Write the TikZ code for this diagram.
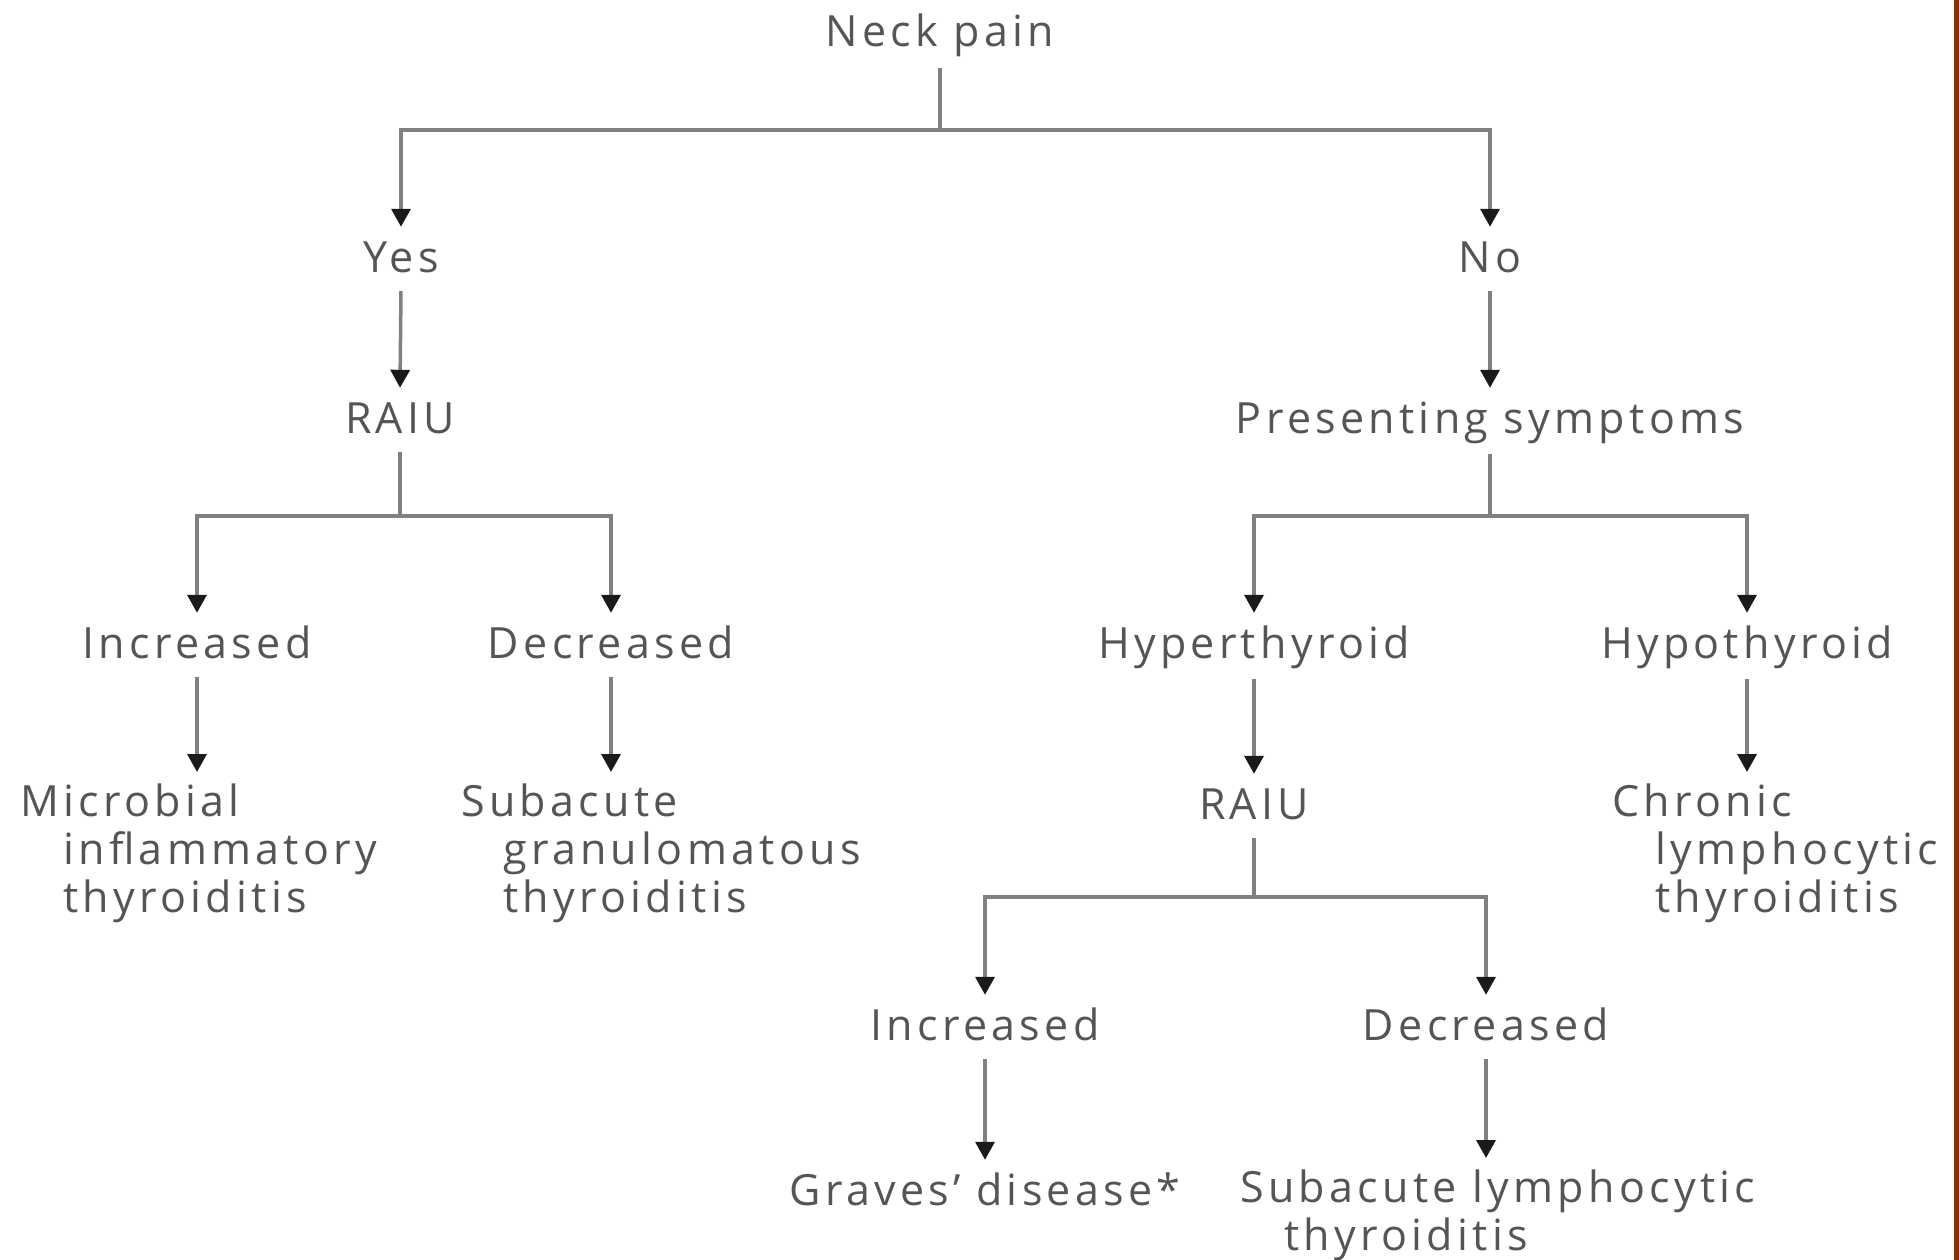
\documentclass[tikz,border=0pt]{standalone}
\usepackage{fontspec}
\usetikzlibrary{arrows.meta}
\newfontfamily\lblfamily{Open Sans}[LetterSpace=10]
\newcommand\lblfont{\lblfamily\fontsize{43}{48}\selectfont}
\newcommand\mystrut{\rule[-9pt]{0pt}{44pt}}
\definecolor{txtgray}{HTML}{555555}
\definecolor{linegray}{HTML}{808080}
\definecolor{tipblack}{HTML}{1A1A1A}
\definecolor{brownstrip}{HTML}{8B3300}
\tikzset{
  lbl/.style={font=\lblfont, text=txtgray, inner xsep=0pt, inner ysep=10pt, anchor=base, execute at begin node=\mystrut},
  mlbl/.style={lbl, align=left, anchor=north west, inner ysep=12pt},
  conn/.style={draw=linegray, line width=3.5pt},
  arr/.style={conn, -{Triangle[length=18pt,width=19pt,color=tipblack]}}
}
\begin{document}
\begin{tikzpicture}[x=1pt,y=-1pt]
\useasboundingbox (0,0) rectangle (1959,1260);
\fill[white] (0,0) rectangle (1959,1260);
\fill[brownstrip] (1954,0) rectangle (1959,1260);

% nodes
\node[lbl] (neck) at (940,47) {Neck pain};
\node[lbl] (yes) at (401,272) {Yes};
\node[lbl] (no) at (1490,272) {No};
\node[lbl] (raiu1) at (400,433) {RAIU};
\node[lbl] (pres) at (1490,433) {Presenting symptoms};
\node[lbl] (inc1) at (197,658) {Increased};
\node[lbl] (dec1) at (611,658) {Decreased};
\node[lbl] (hyper) at (1254,658) {Hyperthyroid};
\node[lbl] (hypo) at (1747,658) {Hypothyroid};
\node[mlbl] (mic) at (20,772) {Microbial\\\hspace*{43pt}inflammatory\\\hspace*{43pt}thyroiditis};
\node[mlbl] (subg) at (461,772) {Subacute\\\hspace*{42pt}granulomatous\\\hspace*{42pt}thyroiditis};
\node[lbl] (raiu2) at (1254,819) {RAIU};
\node[mlbl] (chron) at (1612,772) {Chronic\\\hspace*{43pt}lymphocytic\\\hspace*{43pt}thyroiditis};
\node[lbl] (inc2) at (985,1040) {Increased};
\node[lbl] (dec2) at (1486,1040) {Decreased};
\node[lbl] (graves) at (985,1205) {Graves’ disease*};
\node[mlbl] (subl) at (1240,1158) {Subacute lymphocytic\\\hspace*{44pt}thyroiditis};

% junctions
\coordinate (j1) at (neck.south |- 0,130);
\coordinate (j2) at (raiu1.south |- 0,516);
\coordinate (j3) at (pres.south |- 0,516);
\coordinate (j4) at (raiu2.south |- 0,897);

% connectors
\draw[conn] (neck.south) -- (j1);
\draw[arr] (j1) -| (yes.north);
\draw[arr] (j1) -| (no.north);
\draw[arr] (yes.south) -- (raiu1.north);
\draw[arr] (no.south) -- (pres.north);

\draw[conn] (raiu1.south) -- (j2);
\draw[arr] (j2) -| (inc1.north);
\draw[arr] (j2) -| (dec1.north);
\draw[arr] (inc1.south) -- (inc1.south |- mic.north);
\draw[arr] (dec1.south) -- (dec1.south |- subg.north);

\draw[conn] (pres.south) -- (j3);
\draw[arr] (j3) -| (hyper.north);
\draw[arr] (j3) -| (hypo.north);
\draw[arr] (hyper.south) -- (raiu2.north);
\draw[arr] (hypo.south) -- (hypo.south |- chron.north);

\draw[conn] (raiu2.south) -- (j4);
\draw[arr] (j4) -| (inc2.north);
\draw[arr] (j4) -| (dec2.north);
\draw[arr] (inc2.south) -- (graves.north);
\draw[arr] (dec2.south) -- (dec2.south |- subl.north);
\end{tikzpicture}
\end{document}
